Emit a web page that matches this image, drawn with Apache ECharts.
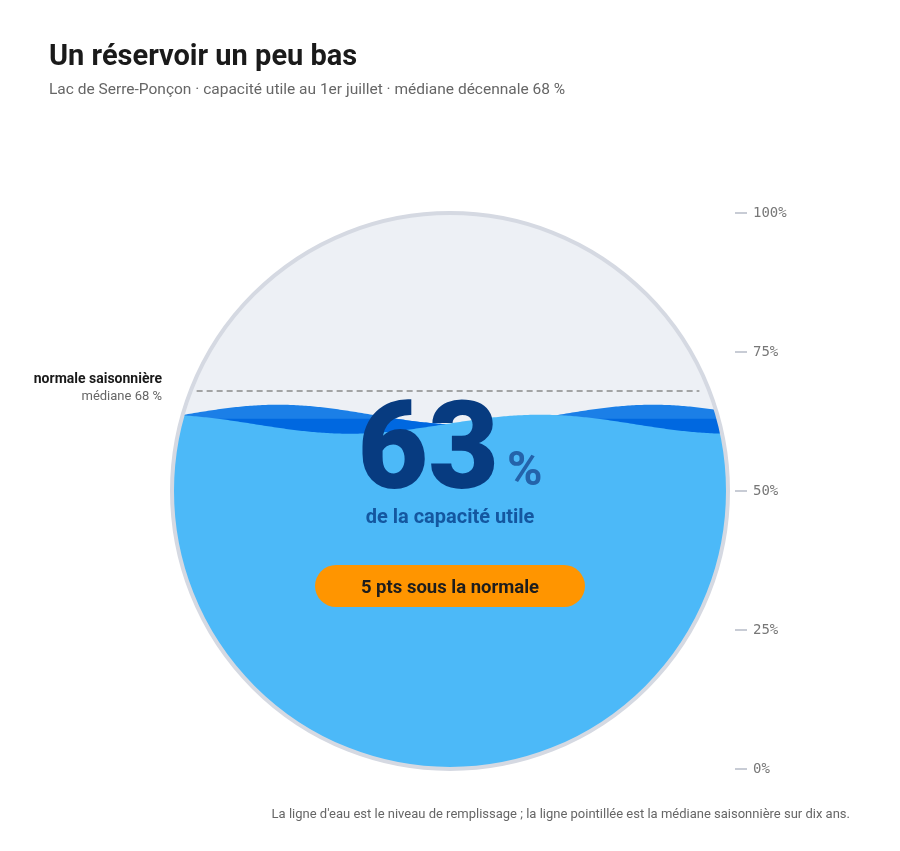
<!DOCTYPE html>
<html>
<head>
<meta charset="utf-8">
<title>Un réservoir un peu bas</title>
<script src="https://cdn.jsdelivr.net/npm/echarts@6/dist/echarts.min.js"></script>
<style>
  html, body { margin: 0; padding: 0; background: #ffffff; }
  #chart { width: 900px; height: 851px; }
</style>
</head>
<body>
<div id="chart"></div>
<script>
// données
const axisTicks = [0, 25, 50, 75, 100];
const fillLevel = [63];      // % de la capacité utile au 1er juillet
const medianLevel = [68];    // médiane décennale
const pointsBelow = medianLevel[0] - fillLevel[0];

const FONT = 'Roboto, "Noto Sans", sans-serif';

// polygone d'une vague, découpé dans le cercle
function wavePoints(cx, cy, R, centerY, amp, wl, peakX, floorY) {
    const top = [];
    const bottom = [];
    for (let x = cx - R; x <= cx + R + 0.01; x += 2) {
        const dx = x - cx;
        const h = Math.sqrt(Math.max(0, R * R - dx * dx));
        let yw = centerY - amp * Math.cos(2 * Math.PI * (x - peakX) / wl);
        if (floorY != null) yw = Math.max(yw, floorY);
        const y = Math.min(Math.max(yw, cy - h), cy + h);
        top.push([x, y]);
        bottom.unshift([x, cy + h]);
    }
    return top.concat(bottom);
}

function renderGauge(params, api) {
    const level = api.value(1);
    const c = api.coord([0, 50]);
    const cx = c[0], cy = c[1];
    const yTop = api.coord([0, 100])[1];
    const yBot = api.coord([0, 0])[1];
    const R = (yBot - yTop) / 2;
    const levelY = api.coord([0, level])[1];
    const medY = api.coord([0, medianLevel[0]])[1];
    const medHalf = Math.sqrt(R * R - (cy - medY) * (cy - medY)) - 6;
    const axisX = api.coord([1, 0])[0];

    // petits traits de graduation à droite
    const tickMarks = axisTicks.map(v => {
        const y = api.coord([0, v])[1];
        return {
            type: 'line',
            shape: { x1: axisX, y1: y, x2: axisX + 12, y2: y },
            style: { stroke: '#c8ccd5', lineWidth: 2 }
        };
    });

    return {
        type: 'group',
        children: [
            { type: 'circle', shape: { cx: cx, cy: cy, r: R }, style: { fill: '#edf0f5' } },
            {
                type: 'polygon',
                shape: { points: wavePoints(cx, cy, R, levelY - 4, 10, 375, cx + 203) },
                style: { fill: '#1b7fe7' }
            },
            {
                type: 'polygon',
                shape: { points: wavePoints(cx, cy, R, levelY - 4, 10, 375, cx + 203, levelY) },
                style: { fill: '#0068e0' }
            },
            {
                type: 'polygon',
                shape: { points: wavePoints(cx, cy, R, levelY + 5.5, 9.5, 380, cx + 90) },
                style: { fill: '#4cb9f8' }
            },
            {
                type: 'line',
                shape: { x1: cx - medHalf, y1: medY, x2: cx + medHalf - 4, y2: medY },
                style: { stroke: '#8a8a8a', lineWidth: 1.5, lineDash: [6, 4] }
            },
            {
                type: 'circle', shape: { cx: cx, cy: cy, r: R },
                style: { fill: null, stroke: '#d5d9e2', lineWidth: 4 }
            },
            {
                type: 'text',
                style: {
                    x: cx - R - 10, y: medY - 11, text: 'normale saisonnière',
                    align: 'right', verticalAlign: 'middle',
                    font: 'bold 14px ' + FONT, fill: '#1a1a1a'
                }
            },
            {
                type: 'text',
                style: {
                    x: cx - R - 10, y: medY + 6, text: 'médiane ' + medianLevel[0] + ' %',
                    align: 'right', verticalAlign: 'middle',
                    font: '13px ' + FONT, fill: '#666666'
                }
            },
            {
                type: 'text',
                style: {
                    x: cx + 49, y: cy - 34, text: String(level),
                    align: 'right', verticalAlign: 'middle',
                    font: '900 122px ' + FONT, fill: '#073b80'
                }
            },
            {
                type: 'text',
                style: {
                    x: cx + 57, y: cy - 18, text: '%',
                    align: 'left', verticalAlign: 'middle',
                    font: 'bold 48px ' + FONT, fill: '#2463aa'
                }
            },
            {
                type: 'text',
                style: {
                    x: cx, y: cy + 27, text: 'de la capacité utile',
                    align: 'center', verticalAlign: 'middle',
                    font: 'bold 20px ' + FONT, fill: '#1457a0'
                }
            },
            {
                type: 'rect',
                shape: { x: cx - 135, y: cy + 74, width: 270, height: 42, r: 21 },
                style: { fill: '#ff9500' }
            },
            {
                type: 'text',
                style: {
                    x: cx, y: cy + 97, text: pointsBelow + ' pts sous la normale',
                    align: 'center', verticalAlign: 'middle',
                    font: 'bold 18.5px ' + FONT, fill: '#1d1d1d'
                }
            }
        ].concat(tickMarks)
    };
}

const chart = echarts.init(document.getElementById('chart'));

chart.setOption({
    backgroundColor: '#ffffff',
    animation: false,
    title: {
        text: 'Un réservoir un peu bas',
        subtext: 'Lac de Serre-Ponçon · capacité utile au 1er juillet · médiane décennale ' + medianLevel[0] + ' %',
        left: 44,
        top: 38,
        itemGap: 10,
        textStyle: { fontFamily: FONT, fontSize: 29, fontWeight: 'bold', color: '#1a1a1a' },
        subtextStyle: { fontFamily: FONT, fontSize: 15.5, color: '#666666' }
    },
    grid: { left: 165, right: 165, top: 213, bottom: 82 },
    xAxis: { type: 'value', min: -1, max: 1, show: false },
    yAxis: {
        type: 'value',
        position: 'right',
        min: axisTicks[0],
        max: axisTicks[axisTicks.length - 1],
        interval: 25,
        axisLine: { show: false },
        splitLine: { show: false },
        axisTick: { show: false },
        axisLabel: {
            margin: 18,
            formatter: '{value}%',
            fontFamily: '"DejaVu Sans Mono", monospace',
            fontSize: 14,
            color: '#777777'
        }
    },
    graphic: [{
        type: 'text',
        right: 50,
        top: 808,
        style: {
            text: 'La ligne d\'eau est le niveau de remplissage ; la ligne pointillée est la médiane saisonnière sur dix ans.',
            font: '13px ' + FONT,
            fill: '#666666'
        }
    }],
    series: [{
        type: 'custom',
        coordinateSystem: 'cartesian2d',
        renderItem: renderGauge,
        data: [[0, fillLevel[0]]],
        silent: true
    }]
});
</script>
</body>
</html>
